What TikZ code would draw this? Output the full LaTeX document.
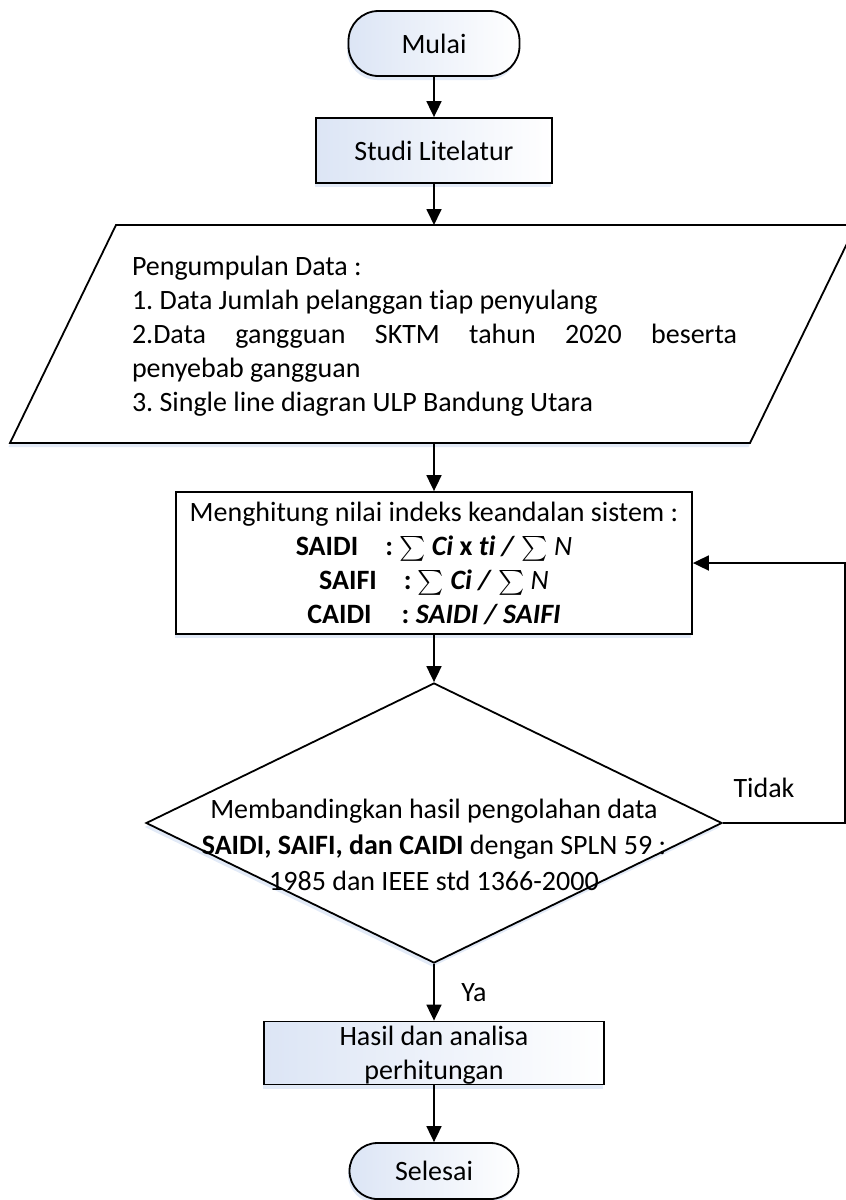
\documentclass[tikz,border=0pt]{standalone}
\usepackage{amsmath}
\usepackage{fontspec}
\setmainfont{Carlito}[Ligatures=NoCommon]
\usetikzlibrary{arrows.meta,shapes.geometric,shadows}
\setlength{\parindent}{0pt}
\frenchspacing
\definecolor{gradblue}{RGB}{220,229,245}
\definecolor{shadowblue}{RGB}{226,234,247}
\begin{document}
\begin{tikzpicture}[x=1pt,y=-1pt,
  font=\fontsize{28}{34}\selectfont,
  every node/.style={inner sep=0pt, text=black},
  softshadow/.style={drop shadow={shadow xshift=-1.5pt,shadow yshift=-4pt,fill=shadowblue,draw=none,opacity=1}},
  term/.style={draw, line width=1.8pt, rounded corners=30pt, minimum width=171pt, minimum height=65pt, left color=gradblue, right color=white, softshadow},
  procbox/.style={draw, line width=1.8pt, left color=gradblue, right color=white, softshadow},
  plainbox/.style={draw, line width=1.8pt, fill=white, softshadow},
  arr/.style={line width=1.8pt, -{Triangle[length=16pt,width=15pt]}},
]
\useasboundingbox (0,0) rectangle (846,1200);
\clip (0,0) rectangle (846,1200);

% Start
\node[term] (start) at (434,43.5) {Mulai};

% Studi literatur
\node[procbox, minimum width=236pt, minimum height=65pt] (studi) at (434,150.5) {Studi Litelatur};

% Data collection (parallelogram)
\fill[shadowblue] (114.5,229) -- (854.5,229) -- (748.5,447) -- (8.5,447) -- cycle;
\draw[line width=1.8pt, fill=white] (116,225) -- (856,225) -- (750,443) -- (10,443) -- cycle;
\coordinate (pTop) at (434,225);
\coordinate (pBot) at (434,443);
\node[text width=605pt, align=justify] (data) at (434.5,336) {Pengumpulan Data :\par
1. Data Jumlah pelanggan tiap penyulang\par
2.Data gangguan SKTM tahun 2020 beserta\linebreak penyebab gangguan\par
3. Single line diagran ULP Bandung Utara};

% Calculation box
\node[plainbox, minimum width=516pt, minimum height=142pt, align=center] (calc) at (434,563)
{Menghitung nilai indeks keandalan sistem :\\
\textbf{SAIDI}\hspace{27pt}\textbf{:} $\sum$ \textbf{\textit{Ci} x \textit{ti} \textit{/}} $\sum$ \textit{N}\\
\textbf{SAIFI}\hspace{27pt}\textbf{:} $\sum$ \textbf{\textit{Ci} \textit{/}} $\sum$ \textit{N}\\
\textbf{CAIDI}\hspace{30pt}\textbf{: \textit{SAIDI / SAIFI}}};

% Decision
\node[diamond, draw, line width=1.8pt, fill=white, softshadow, minimum width=576pt, minimum height=280pt, inner sep=0pt] (dec) at (434,823) {};
\node[align=center, font=\fontsize{28}{36}\selectfont] (dectext) at (434,845)
{Membandingkan hasil pengolahan data\\
\textbf{SAIDI, SAIFI, dan CAIDI} dengan SPLN 59 :\\
1985 dan IEEE std 1366-2000};

% Result
\node[procbox, minimum width=340pt, minimum height=63pt, align=center, text depth=0pt] (hasil) at (434,1053) {Hasil dan analisa\\perhitungan};

% End
\node[term, minimum width=169pt, minimum height=56pt, rounded corners=28pt] (end) at (434,1171) {Selesai};

% Labels
\node (tidak) at (764,788) {Tidak};
\node (ya) at (474,993) {Ya};

% Connectors
\coordinate (loopR) at (845,700);
\draw[arr] (start.south) -- (studi.north);
\draw[arr] (studi.south) -- (pTop);
\draw[arr] (pBot) -- (calc.north);
\draw[arr] (calc.south) -- (dec.north);
\draw[arr] (dec.east) -| (loopR) |- (calc.east);
\draw[arr] (dec.south) -- (hasil.north);
\draw[arr] (hasil.south) -- (end.north);
\end{tikzpicture}
\end{document}
